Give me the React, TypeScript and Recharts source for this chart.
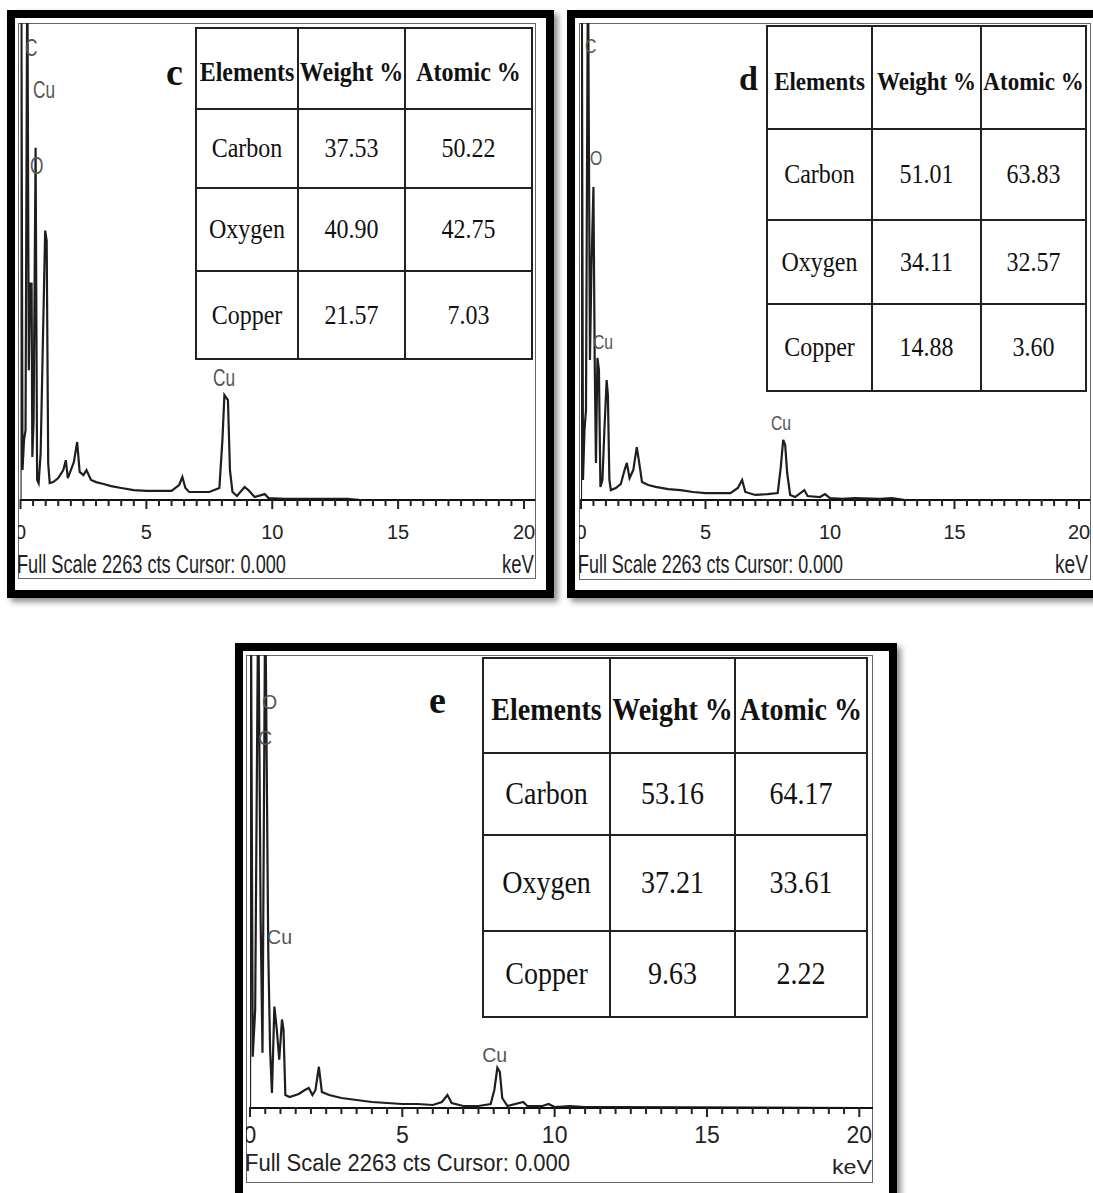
import React from 'react';
import { LineChart, Line, XAxis, YAxis, ReferenceDot } from 'recharts';

const SANS = '"Liberation Sans", Arial, sans-serif';
const SERIF = '"Liberation Serif", "Times New Roman", serif';

// every spectrum window is 0..2263 cts tall, 0..~20.5 keV wide
const FULL_SCALE = 2263;
const KEV_MAX = 20.45;
const MAJOR_TICKS = [0, 5, 10, 15, 20];
const KEV_TICKS = Array.from({ length: 41 }, (_, i) => i / 2);

const TABLE_HEADERS = ['Elements', 'Weight %', 'Atomic %'];
const ELEMENTS = ['Carbon', 'Oxygen', 'Copper'];
const FOOTER = 'Full Scale 2263 cts Cursor: 0.000';

// ---- sample c ----
const kevC = [0, 0.03, 0.08, 0.14, 0.2, 0.27, 0.33, 0.38, 0.44, 0.47, 0.52, 0.6, 0.66, 0.72, 0.8, 0.88, 0.98, 1.04, 1.1, 1.16, 1.3, 1.5, 1.7, 1.8, 1.88, 2.0, 2.12, 2.25, 2.35, 2.5, 2.62, 2.8, 3.0, 3.3, 3.6, 4.0, 4.5, 5.0, 5.5, 6.0, 6.3, 6.43, 6.55, 6.7, 7.0, 7.5, 7.9, 8.02, 8.1, 8.24, 8.32, 8.42, 8.6, 8.9, 9.05, 9.3, 9.7, 9.85, 10.5, 11, 12, 13, 13.5, 20];
const ctsC = [0, 2600, 142, 284, 331, 2600, 615, 1027, 1027, 204, 379, 1671, 95, 80, 222, 696, 1278, 1231, 175, 80, 85, 104, 142, 189, 104, 142, 180, 275, 133, 118, 142, 95, 85, 76, 66, 57, 47, 43, 43, 43, 71, 109, 57, 38, 38, 38, 57, 284, 498, 474, 142, 38, 19, 62, 47, 14, 28, 9, 5, 5, 5, 5, 0, 0];
const weightC = ['37.53', '40.90', '21.57'];
const atomicC = ['50.22', '42.75', '7.03'];
const peaksC = [
  { label: 'C', kev: 0.18, cts: 2149 },
  { label: 'Cu', kev: 0.5, cts: 1950 },
  { label: 'O', kev: 0.38, cts: 1589 },
  { label: 'Cu', kev: 7.65, cts: 584 },
];

// ---- sample d ----
const kevD = [0, 0.03, 0.08, 0.14, 0.2, 0.28, 0.36, 0.42, 0.5, 0.55, 0.6, 0.66, 0.72, 0.78, 0.86, 0.94, 1.03, 1.08, 1.14, 1.2, 1.4, 1.6, 1.75, 1.84, 1.95, 2.1, 2.24, 2.32, 2.45, 2.7, 3.0, 3.5, 4.0, 4.5, 5.0, 5.5, 6.0, 6.3, 6.47, 6.6, 7.0, 7.5, 7.9, 8.02, 8.12, 8.2, 8.28, 8.4, 8.6, 8.97, 9.1, 9.6, 9.8, 10, 10.5, 11, 12, 12.5, 13, 20];
const ctsD = [0, 2600, 95, 332, 427, 2600, 664, 1105, 1485, 664, 176, 674, 617, 62, 95, 332, 569, 498, 95, 47, 57, 76, 142, 176, 104, 142, 251, 190, 85, 71, 62, 52, 47, 38, 33, 33, 33, 57, 95, 38, 24, 28, 33, 152, 285, 261, 128, 24, 14, 47, 19, 14, 28, 9, 5, 9, 5, 9, 0, 0];
const weightD = ['51.01', '34.11', '14.88'];
const atomicD = ['63.83', '32.57', '3.60'];
const peaksD = [
  { label: 'C', kev: 0.16, cts: 2154 },
  { label: 'O', kev: 0.36, cts: 1622 },
  { label: 'Cu', kev: 0.48, cts: 750 },
  { label: 'Cu', kev: 7.63, cts: 365 },
];

// ---- sample e ----
const kevE = [0, 0.03, 0.09, 0.17, 0.27, 0.35, 0.41, 0.5, 0.6, 0.66, 0.72, 0.8, 0.88, 0.96, 1.05, 1.1, 1.16, 1.3, 1.6, 1.8, 1.93, 2.05, 2.15, 2.26, 2.36, 2.6, 3.0, 3.5, 4.0, 4.5, 5.0, 5.5, 6.0, 6.3, 6.48, 6.62, 7.0, 7.5, 7.9, 8.02, 8.12, 8.2, 8.28, 8.45, 8.97, 9.1, 9.6, 9.8, 10, 10.5, 11, 12, 20];
const ctsE = [0, 2600, 256, 492, 2600, 933, 276, 2600, 778, 291, 75, 507, 391, 241, 442, 391, 65, 55, 70, 90, 100, 65, 90, 206, 80, 65, 50, 40, 30, 25, 20, 20, 15, 30, 65, 25, 10, 10, 20, 90, 201, 181, 50, 10, 30, 10, 10, 20, 5, 10, 5, 5, 0];
const weightE = ['53.16', '37.21', '9.63'];
const atomicE = ['64.17', '33.61', '2.22'];
const peaksE = [
  { label: 'O', kev: 0.39, cts: 2028 },
  { label: 'C', kev: 0.26, cts: 1849 },
  { label: 'Cu', kev: 0.56, cts: 854 },
  { label: 'Cu', kev: 7.62, cts: 265 },
];

type Layout = {
  box: { left: number; top: number; width: number; height: number };
  frame: { left: number; top: number; right: number; bottom: number };
  x0: number;
  x20: number;
  axisY: number;
  tickFont: number;
  tickDy: number;
  footer: { font: number; baseline: number; width: number; kevFont: number; kevWidth: number; kevRight: number; kevBaseline: number };
  peakFont: number;
  peakScale: number;
  tag: { x: number; baseline: number; size: number };
  table: { left: number; top: number; cols: number[]; rows: number[]; headFont: number; bodyFont: number };
};

const LAYOUT_C: Layout = {
  box: { left: 7, top: 10, width: 547, height: 588 },
  frame: { left: 18, top: 23, right: 536, bottom: 579 },
  x0: 20.5,
  x20: 524,
  axisY: 500,
  tickFont: 20,
  tickDy: 39,
  footer: { font: 25, baseline: 573, width: 269, kevFont: 25, kevWidth: 32, kevRight: 534, kevBaseline: 573 },
  peakFont: 24,
  peakScale: 0.72,
  tag: { x: 166, baseline: 85, size: 38 },
  table: { left: 195, top: 27, cols: [102, 107, 127], rows: [81, 79, 83, 88], headFont: 24, bodyFont: 24 },
};

// this frame runs past the right edge of the page
const LAYOUT_D: Layout = {
  box: { left: 567, top: 10, width: 545, height: 588 },
  frame: { left: 579, top: 23, right: 1091, bottom: 580 },
  x0: 581,
  x20: 1079,
  axisY: 500,
  tickFont: 20,
  tickDy: 39,
  footer: { font: 25, baseline: 573, width: 265, kevFont: 25, kevWidth: 33, kevRight: 1088, kevBaseline: 573 },
  peakFont: 21,
  peakScale: 0.75,
  tag: { x: 739, baseline: 90, size: 34 },
  table: { left: 766, top: 25, cols: [105, 109, 105], rows: [103, 91, 84, 87], headFont: 23, bodyFont: 24 },
};

const LAYOUT_E: Layout = {
  box: { left: 235, top: 643, width: 662, height: 560 },
  frame: { left: 246, top: 655, right: 873, bottom: 1183 },
  x0: 250,
  x20: 861.7,
  axisY: 1108,
  tickFont: 23,
  tickDy: 35,
  footer: { font: 23, baseline: 1171, width: 325, kevFont: 21, kevWidth: 40, kevRight: 872, kevBaseline: 1174 },
  peakFont: 21,
  peakScale: 0.93,
  tag: { x: 429, baseline: 713, size: 38 },
  table: { left: 482, top: 657, cols: [127, 125, 132], rows: [95, 82, 96, 86], headFont: 28, bodyFont: 28 },
};

type Peak = { label: string; kev: number; cts: number };

function makeTick(layout: Layout) {
  return (props: any) => {
    const { x, y, payload } = props;
    const v = Number(payload.value);
    const major = MAJOR_TICKS.includes(v);
    return (
      <g>
        <line x1={x} x2={x} y1={y - 1} y2={y + (major ? 9 : 6)} stroke="#222" strokeWidth={2} />
        {major && (
          <text x={x} y={y + layout.tickDy} textAnchor="middle" fontSize={layout.tickFont} fontFamily={SANS} fill="#222">
            {v}
          </text>
        )}
      </g>
    );
  };
}

// table text is set a little taller than wide, like the scanned tables
const Tall = ({ children }: { children: React.ReactNode }) => (
  <span style={{ display: 'inline-block', transform: 'scaleY(1.14)', transformOrigin: 'center' }}>{children}</span>
);

function CompositionTable({ layout, weight, atomic }: { layout: Layout; weight: string[]; atomic: string[] }) {
  const t = layout.table;
  const cell: React.CSSProperties = {
    border: '2px solid #222',
    padding: 0,
    textAlign: 'center',
    verticalAlign: 'middle',
    whiteSpace: 'nowrap',
    overflow: 'visible',
    color: '#111',
  };
  return (
    <table
      style={{
        position: 'absolute',
        left: t.left,
        top: t.top,
        width: t.cols.reduce((a, b) => a + b, 0),
        borderCollapse: 'collapse',
        tableLayout: 'fixed',
        background: '#fff',
        fontFamily: SERIF,
      }}
    >
      <colgroup>
        {t.cols.map((w, i) => (
          <col key={i} style={{ width: w }} />
        ))}
      </colgroup>
      <tbody>
        <tr style={{ height: t.rows[0] }}>
          {TABLE_HEADERS.map((h) => (
            <th key={h} style={{ ...cell, fontSize: t.headFont, fontWeight: 700, paddingTop: 8 }}>
              <Tall>{h}</Tall>
            </th>
          ))}
        </tr>
        {ELEMENTS.map((el, i) => (
          <tr key={el} style={{ height: t.rows[i + 1] }}>
            <td style={{ ...cell, fontSize: t.bodyFont }}>
              <Tall>{el}</Tall>
            </td>
            <td style={{ ...cell, fontSize: t.bodyFont }}>
              <Tall>{weight[i]}</Tall>
            </td>
            <td style={{ ...cell, fontSize: t.bodyFont }}>
              <Tall>{atomic[i]}</Tall>
            </td>
          </tr>
        ))}
      </tbody>
    </table>
  );
}

function EdsPanel(props: {
  tag: string;
  layout: Layout;
  kev: number[];
  cts: number[];
  peaks: Peak[];
  weight: string[];
  atomic: string[];
}) {
  const { tag, layout, kev, cts, peaks, weight, atomic } = props;
  const { box, frame, x0, x20, axisY, footer } = layout;
  const fw = frame.right - frame.left;
  const fh = frame.bottom - frame.top;
  const pxPerKev = (x20 - x0) / 20;
  const marginLeft = x0 - frame.left;
  const marginRight = Math.max(0, fw - marginLeft - KEV_MAX * pxPerKev);
  const plotH = axisY - frame.top;
  const data = kev.map((k, i) => ({ kev: k, cts: cts[i] }));

  return (
    <>
      <div
        style={{
          position: 'absolute',
          left: box.left,
          top: box.top,
          width: box.width,
          height: box.height,
          border: '8px solid #000',
          boxSizing: 'border-box',
          background: '#fff',
          boxShadow: '4px 4px 6px rgba(0,0,0,0.45)',
        }}
      />
      <div
        style={{
          position: 'absolute',
          left: frame.left,
          top: frame.top,
          width: fw,
          height: fh,
          border: '1.5px solid #666',
          boxSizing: 'border-box',
        }}
      />
      <div style={{ position: 'absolute', left: frame.left, top: frame.top }}>
        <LineChart width={fw} height={fh} data={data} margin={{ top: 0, right: marginRight, bottom: 0, left: marginLeft }}>
          <XAxis
            type="number"
            dataKey="kev"
            domain={[0, KEV_MAX]}
            allowDataOverflow
            ticks={KEV_TICKS}
            interval={0}
            tickSize={0}
            tickMargin={0}
            tickLine={false}
            tick={makeTick(layout)}
            axisLine={{ stroke: '#111', strokeWidth: 2 }}
            height={fh - plotH}
          />
          <YAxis hide type="number" domain={[0, FULL_SCALE]} allowDataOverflow />
          <Line
            type="linear"
            dataKey="cts"
            stroke="#1e1e1e"
            strokeWidth={2.2}
            dot={false}
            isAnimationActive={false}
          />
          {peaks.map((p, i) => (
            <ReferenceDot
              key={i}
              x={p.kev}
              y={p.cts}
              r={1}
              ifOverflow="visible"
              shape={(s: any) => (
                <text
                  transform={`translate(${s.cx} ${s.cy}) scale(${layout.peakScale} 1)`}
                  fontSize={layout.peakFont}
                  fontFamily={SANS}
                  dominantBaseline="central"
                  fill="#555"
                >
                  {p.label}
                </text>
              )}
            />
          ))}
        </LineChart>
      </div>
      <svg
        width={box.width}
        height={box.height}
        style={{ position: 'absolute', left: box.left, top: box.top, overflow: 'visible', pointerEvents: 'none' }}
      >
        <text
          x={frame.left - box.left - 1}
          y={footer.baseline - box.top}
          fontSize={footer.font}
          fontFamily={SANS}
          fill="#222"
          textLength={footer.width}
          lengthAdjust="spacingAndGlyphs"
        >
          {FOOTER}
        </text>
        <text
          x={footer.kevRight - box.left - footer.kevWidth}
          y={footer.kevBaseline - box.top}
          fontSize={footer.kevFont}
          fontFamily={SANS}
          fill="#222"
          textLength={footer.kevWidth}
          lengthAdjust="spacingAndGlyphs"
        >
          keV
        </text>
        <text
          x={layout.tag.x - box.left}
          y={layout.tag.baseline - box.top}
          fontSize={layout.tag.size}
          fontFamily={SERIF}
          fontWeight={700}
          fill="#111"
        >
          {tag}
        </text>
      </svg>
      <CompositionTable layout={layout} weight={weight} atomic={atomic} />
    </>
  );
}

export default function App() {
  return (
    <div
      style={{
        position: 'fixed',
        left: 0,
        top: 0,
        width: 1093,
        height: 1193,
        overflow: 'hidden',
        background: '#fff',
      }}
    >
      <EdsPanel tag="c" layout={LAYOUT_C} kev={kevC} cts={ctsC} peaks={peaksC} weight={weightC} atomic={atomicC} />
      <EdsPanel tag="d" layout={LAYOUT_D} kev={kevD} cts={ctsD} peaks={peaksD} weight={weightD} atomic={atomicD} />
      <EdsPanel tag="e" layout={LAYOUT_E} kev={kevE} cts={ctsE} peaks={peaksE} weight={weightE} atomic={atomicE} />
    </div>
  );
}
